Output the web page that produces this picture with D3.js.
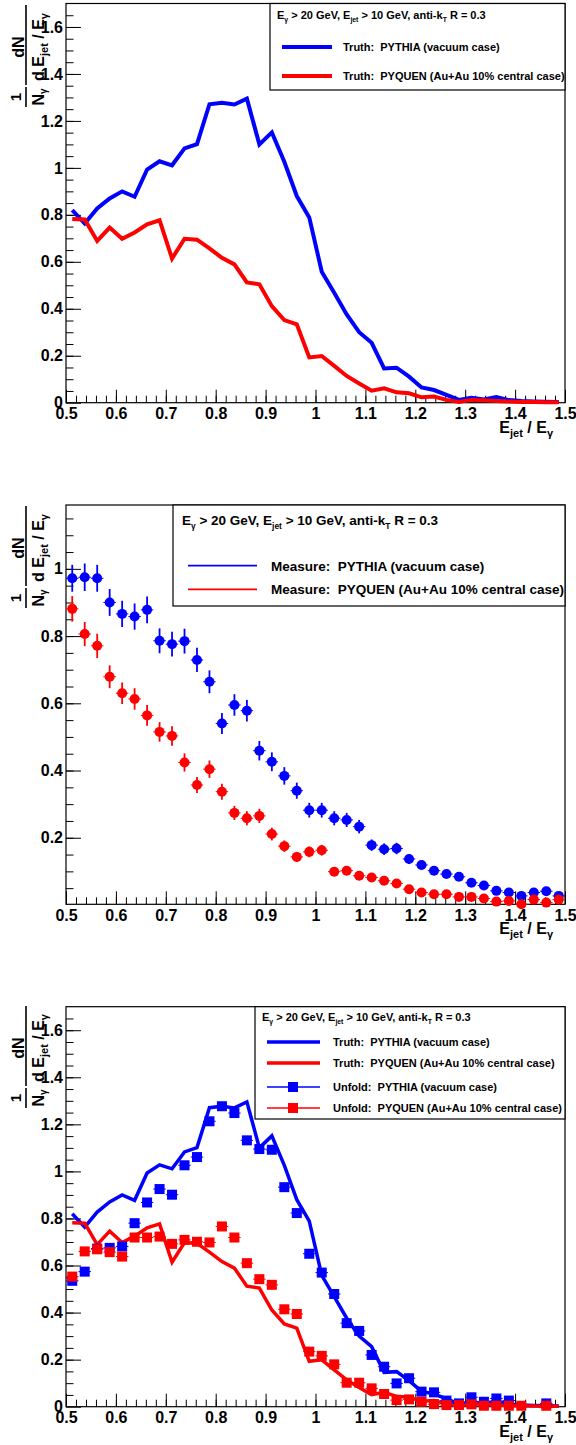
<!DOCTYPE html>
<html><head><meta charset="utf-8">
<script src="https://cdn.jsdelivr.net/npm/d3@7"></script>
<style>
body{margin:0;background:#fff}
svg{display:block}
text{font-family:"Liberation Sans",Arial,Helvetica,sans-serif;font-weight:bold}
</style>
</head><body>
<svg id="c" width="576" height="1445"></svg>
<script>
// ---------------- DATA ----------------
const binCenters = [0.5125,0.5375,0.5625,0.5875,0.6125,0.6375,0.6625,0.6875,0.7125,0.7375,
  0.7625,0.7875,0.8125,0.8375,0.8625,0.8875,0.9125,0.9375,0.9625,0.9875,
  1.0125,1.0375,1.0625,1.0875,1.1125,1.1375,1.1625,1.1875,1.2125,1.2375,
  1.2625,1.2875,1.3125,1.3375,1.3625,1.3875,1.4125,1.4375,1.4625,1.4875];
const binHalfWidth = 0.0125;

const truthPythia = [0.82,0.763,0.827,0.87,0.90,0.877,0.993,1.028,1.011,1.083,
  1.101,1.271,1.277,1.270,1.295,1.100,1.151,1.026,0.880,0.789,
  0.558,0.468,0.376,0.300,0.255,0.146,0.149,0.111,0.065,0.054,
  0.033,0.012,0.021,0.014,0.024,0.011,0.007,0.005,0.004,0.003];
const truthPyquen = [0.782,0.780,0.689,0.746,0.698,0.725,0.760,0.777,0.614,0.698,
  0.694,0.657,0.617,0.589,0.512,0.504,0.411,0.352,0.334,0.193,
  0.199,0.157,0.114,0.082,0.051,0.061,0.044,0.040,0.023,0.026,
  0.012,0.003,0.012,0.010,0.007,0.005,0.003,0.003,0.002,0.002];

const measPythia = [0.972,0.975,0.972,0.900,0.866,0.858,0.878,0.786,0.776,0.785,
  0.729,0.664,0.540,0.595,0.578,0.459,0.426,0.384,0.340,0.282,
  0.282,0.258,0.253,0.233,0.178,0.166,0.168,0.137,0.119,0.102,
  0.092,0.084,0.066,0.058,0.042,0.037,0.027,0.037,0.041,0.027];
const measPythiaErr = [0.040,0.041,0.040,0.040,0.039,0.039,0.040,0.037,0.037,0.037,
  0.036,0.034,0.031,0.032,0.032,0.029,0.028,0.026,0.024,0.022,
  0.022,0.021,0.021,0.020,0.017,0.017,0.017,0.015,0.014,0.013,
  0.012,0.012,0.010,0.010,0.008,0.008,0.007,0.008,0.008,0.007];
const measPyquen = [0.881,0.806,0.771,0.679,0.630,0.613,0.564,0.515,0.503,0.424,
  0.357,0.404,0.337,0.274,0.258,0.265,0.211,0.175,0.143,0.158,
  0.163,0.099,0.102,0.087,0.082,0.072,0.064,0.047,0.037,0.032,
  0.032,0.024,0.024,0.019,0.010,0.012,0.002,0.016,0.007,0.016];
const measPyquenErr = [0.038,0.036,0.036,0.034,0.032,0.032,0.031,0.029,0.029,0.027,
  0.024,0.026,0.024,0.021,0.021,0.021,0.019,0.017,0.015,0.016,
  0.016,0.012,0.013,0.012,0.012,0.011,0.010,0.009,0.008,0.008,
  0.008,0.007,0.007,0.006,0.004,0.005,0.002,0.006,0.003,0.006];

const unfoldPythia = [0.535,0.574,0.672,0.675,0.681,0.780,0.868,0.925,0.901,1.026,
  1.061,1.213,1.277,1.248,1.132,1.095,1.092,0.933,0.823,0.650,
  0.570,0.479,0.355,0.322,0.220,0.170,0.099,0.121,0.064,0.061,
  0.026,0.014,0.040,0.021,0.035,0.026,null,null,0.014,null];
const unfoldPyquen = [0.553,0.660,0.669,0.657,0.638,0.719,0.719,0.723,0.692,0.709,
  0.701,0.698,0.766,0.719,0.610,0.542,0.518,0.414,0.394,0.234,
  0.216,0.180,0.102,0.102,0.078,0.054,0.028,0.031,0.021,0.011,
  0.007,0.007,0.010,0.004,0.004,0.004,0.004,null,0.004,null];

const xTickValues = [0.5,0.6,0.7,0.8,0.9,1.0,1.1,1.2,1.3,1.4,1.5];
const xTickLabels = ["0.5","0.6","0.7","0.8","0.9","1","1.1","1.2","1.3","1.4","1.5"];
const yTicksTruth = [0,0.2,0.4,0.6,0.8,1.0,1.2,1.4,1.6];
const yLabelsTruth = ["0","0.2","0.4","0.6","0.8","1","1.2","1.4","1.6"];
const yTicksMeas = [0.2,0.4,0.6,0.8,1.0];
const yLabelsMeas = ["0.2","0.4","0.6","0.8","1"];

const legendHeader = [["E",""],["γ","sub"],[" > 20 GeV, E",""],["jet","sub"],[" > 10 GeV, anti-k",""],["T","sub"],[" R = 0.3",""]];
const legTruthPythia = "Truth:\u00a0 PYTHIA (vacuum case)";
const legTruthPyquen = "Truth:\u00a0 PYQUEN (Au+Au 10% central case)";
const legMeasPythia = "Measure:\u00a0 PYTHIA (vacuum case)";
const legMeasPyquen = "Measure:\u00a0 PYQUEN (Au+Au 10% central case)";
const legUnfPythia = "Unfold:\u00a0 PYTHIA (vacuum case)";
const legUnfPyquen = "Unfold:\u00a0 PYQUEN (Au+Au 10% central case)";

// ---------------- DRAW ----------------
const FONT = '"Liberation Sans", Arial, Helvetica, sans-serif';
const BLUE = "#0000ff", RED = "#ff0000";
const svg = d3.select("#c");
const xL = 66, xR = 565;
const x = d3.scaleLinear().domain([0.5, 1.5]).range([xL, xR]);
const xMinor = d3.range(0.52, 1.5, 0.02).map(v => +v.toFixed(3));

function styleAxisText(sel){
  sel.selectAll("text").attr("font-size", 16).attr("font-family", FONT)
     .attr("font-weight", "bold").attr("fill", "#000");
  sel.attr("font-family", FONT);
}

function makePanel(p){
  const y = d3.scaleLinear().domain([p.ymin, p.ymax]).range([p.bottom, p.top]);
  const g = svg.append("g");
  // minor x ticks
  g.append("g").attr("transform", `translate(0,${p.bottom})`)
    .call(d3.axisBottom(x).tickValues(xMinor).tickSize(-7).tickFormat(""))
    .call(s => s.select(".domain").remove());
  // major x ticks
  g.append("g").attr("transform", `translate(0,${p.bottom})`)
    .call(d3.axisBottom(x).tickValues(xTickValues).tickSize(-13).tickPadding(5)
      .tickFormat((d, i) => xTickLabels[i]))
    .call(s => s.select(".domain").remove())
    .call(styleAxisText);
  // minor y ticks
  g.append("g").attr("transform", `translate(${xL},0)`)
    .call(d3.axisLeft(y).tickValues(p.yMinor).tickSize(-7.5).tickFormat(""))
    .call(s => s.select(".domain").remove());
  // major y ticks
  g.append("g").attr("transform", `translate(${xL},0)`)
    .call(d3.axisLeft(y).tickValues(p.yTicks).tickSize(-15).tickPadding(3)
      .tickFormat((d, i) => p.yLabels[i]))
    .call(s => s.select(".domain").remove())
    .call(styleAxisText);
  // frame
  g.append("rect").attr("x", xL).attr("y", p.top).attr("width", xR - xL)
    .attr("height", p.bottom - p.top).attr("fill", "none").attr("stroke", "#000").attr("stroke-width", 1.2);
  // x title
  const xt = g.append("text").attr("x", 553).attr("y", p.bottom + 30).attr("text-anchor", "end")
    .attr("font-size", 16);
  xt.append("tspan").text("E");
  xt.append("tspan").attr("font-size", 11).attr("dy", 4).text("jet");
  xt.append("tspan").attr("dy", -4).text(" / E");
  xt.append("tspan").attr("font-size", 11).attr("dy", 4).text("γ");
  yTitle(p.titleBottom);
  return y;
}

function yTitle(bottom){
  const t = svg.append("g").attr("transform", `translate(0,${bottom}) rotate(-90)`);
  t.append("text").attr("x", 10).attr("y", 21).attr("text-anchor", "middle").attr("font-size", 15).text("1");
  t.append("line").attr("x1", 0).attr("x2", 20).attr("y1", 26).attr("y2", 26)
    .attr("stroke", "#000").attr("stroke-width", 1.6);
  const d1 = t.append("text").attr("x", 10).attr("y", 44).attr("text-anchor", "middle").attr("font-size", 16);
  d1.append("tspan").text("N");
  d1.append("tspan").attr("font-size", 10).attr("dy", 3).text("γ");
  t.append("text").attr("x", 60).attr("y", 24).attr("text-anchor", "middle").attr("font-size", 16).text("dN");
  t.append("line").attr("x1", 22).attr("x2", 102).attr("y1", 26).attr("y2", 26)
    .attr("stroke", "#000").attr("stroke-width", 1.6);
  const d2 = t.append("text").attr("x", 60).attr("y", 44).attr("text-anchor", "middle").attr("font-size", 16);
  d2.append("tspan").text("d E");
  d2.append("tspan").attr("font-size", 11).attr("dy", 4).text("jet");
  d2.append("tspan").attr("dy", -4).text(" / E");
  d2.append("tspan").attr("font-size", 11).attr("dy", 4).text("γ");
}

function header(g, hx, hy, fs){
  const t = g.append("text").attr("x", hx).attr("y", hy).attr("font-size", fs);
  let shifted = false;
  legendHeader.forEach(([s, kind]) => {
    const ts = t.append("tspan").text(s);
    if (kind === "sub") { ts.attr("font-size", fs * 0.62).attr("dy", fs * 0.3); shifted = true; }
    else if (shifted) { ts.attr("dy", -fs * 0.3); shifted = false; }
  });
}

function legendBox(g, x0, y0, x1, y1){
  g.append("rect").attr("x", x0).attr("y", y0).attr("width", x1 - x0).attr("height", y1 - y0)
    .attr("fill", "#fff").attr("stroke", "#000").attr("stroke-width", 1.2);
}

const panels = [
  {top: 3.5, bottom: 402.7, ymin: 0, ymax: 1.7, yTicks: yTicksTruth, yLabels: yLabelsTruth,
   yMinor: d3.range(0.05, 1.7, 0.05).map(v => +v.toFixed(3)), titleBottom: 107},
  {top: 505, bottom: 904.3, ymin: 0.002, ymax: 1.19, yTicks: yTicksMeas, yLabels: yLabelsMeas,
   yMinor: d3.range(0.05, 1.19, 0.05).map(v => +v.toFixed(3)), titleBottom: 608},
  {top: 1006.7, bottom: 1406.7, ymin: 0, ymax: 1.7, yTicks: yTicksTruth, yLabels: yLabelsTruth,
   yMinor: d3.range(0.05, 1.7, 0.05).map(v => +v.toFixed(3)), titleBottom: 1108}
];

function truthLine(g, y, vals, color, w){
  const line = d3.line().x((d, i) => x(binCenters[i])).y(d => y(d));
  g.append("path").attr("d", line(vals)).attr("fill", "none").attr("stroke", color)
    .attr("stroke-width", w).attr("stroke-linejoin", "miter");
}

// ---- Panel 1 ----
{
  const p = panels[0];
  const y = makePanel(p);
  const g = svg.append("g");
  truthLine(g, y, truthPythia, BLUE, 4);
  truthLine(g, y, truthPyquen, RED, 4);
  legendBox(g, 270, p.top, xR, 90);
  header(g, 277, 19, 11);
  [[truthPythia, BLUE, legTruthPythia, 47], [truthPyquen, RED, legTruthPyquen, 76]].forEach(([v, c, s, yy]) => {
    g.append("line").attr("x1", 282).attr("x2", 332).attr("y1", yy).attr("y2", yy).attr("stroke", c).attr("stroke-width", 4);
    g.append("text").attr("x", 343).attr("y", yy + 4).attr("font-size", 11).text(s);
  });
}

// ---- Panel 2 ----
{
  const p = panels[1];
  const y = makePanel(p);
  const g = svg.append("g");
  [[measPythia, measPythiaErr, BLUE], [measPyquen, measPyquenErr, RED]].forEach(([vals, errs, c]) => {
    const pts = vals.map((v, i) => ({xv: binCenters[i], v, e: errs[i]}));
    const s = g.append("g");
    s.selectAll(".ey").data(pts).join("line")
      .attr("x1", d => x(d.xv)).attr("x2", d => x(d.xv))
      .attr("y1", d => y(d.v - d.e)).attr("y2", d => y(d.v + d.e))
      .attr("stroke", c).attr("stroke-width", 1.8);
    s.selectAll(".ex").data(pts).join("line")
      .attr("x1", d => x(d.xv - binHalfWidth)).attr("x2", d => x(d.xv + binHalfWidth))
      .attr("y1", d => y(d.v)).attr("y2", d => y(d.v))
      .attr("stroke", c).attr("stroke-width", 1);
    s.selectAll("circle").data(pts).join("circle")
      .attr("cx", d => x(d.xv)).attr("cy", d => y(d.v)).attr("r", 5).attr("fill", c);
  });
  legendBox(g, 173, p.top, xR, 606);
  header(g, 182, 525, 13.5);
  [[BLUE, legMeasPythia, 565.7], [RED, legMeasPyquen, 589.3]].forEach(([c, s, yy]) => {
    g.append("line").attr("x1", 188).attr("x2", 257).attr("y1", yy).attr("y2", yy).attr("stroke", c).attr("stroke-width", 1.8);
    g.append("text").attr("x", 271).attr("y", yy + 5).attr("font-size", 13.5).text(s);
  });
}

// ---- Panel 3 ----
{
  const p = panels[2];
  const y = makePanel(p);
  const g = svg.append("g");
  truthLine(g, y, truthPythia, BLUE, 3.5);
  truthLine(g, y, truthPyquen, RED, 3.5);
  [[unfoldPythia, BLUE], [unfoldPyquen, RED]].forEach(([vals, c]) => {
    const pts = vals.map((v, i) => ({xv: binCenters[i], v})).filter(d => d.v !== null);
    const s = g.append("g");
    s.selectAll("line").data(pts).join("line")
      .attr("x1", d => x(d.xv - binHalfWidth)).attr("x2", d => x(d.xv + binHalfWidth))
      .attr("y1", d => y(d.v)).attr("y2", d => y(d.v))
      .attr("stroke", c).attr("stroke-width", 1);
    s.selectAll("rect").data(pts).join("rect")
      .attr("x", d => x(d.xv) - 5).attr("y", d => y(d.v) - 5).attr("width", 10).attr("height", 10).attr("fill", c);
  });
  legendBox(g, 255, p.top, xR, 1119);
  header(g, 262, 1021, 11);
  const entries = [[BLUE, legTruthPythia, 1042, 3.5, false], [RED, legTruthPyquen, 1063, 3.5, false],
                   [BLUE, legUnfPythia, 1087, 1.5, true], [RED, legUnfPyquen, 1108, 1.5, true]];
  entries.forEach(([c, s, yy, w, mk]) => {
    g.append("line").attr("x1", 267).attr("x2", 320).attr("y1", yy).attr("y2", yy).attr("stroke", c).attr("stroke-width", w);
    if (mk) g.append("rect").attr("x", 293 - 5).attr("y", yy - 5).attr("width", 10).attr("height", 10).attr("fill", c);
    g.append("text").attr("x", 333).attr("y", yy + 4).attr("font-size", 11).text(s);
  });
}
</script>
</body></html>
